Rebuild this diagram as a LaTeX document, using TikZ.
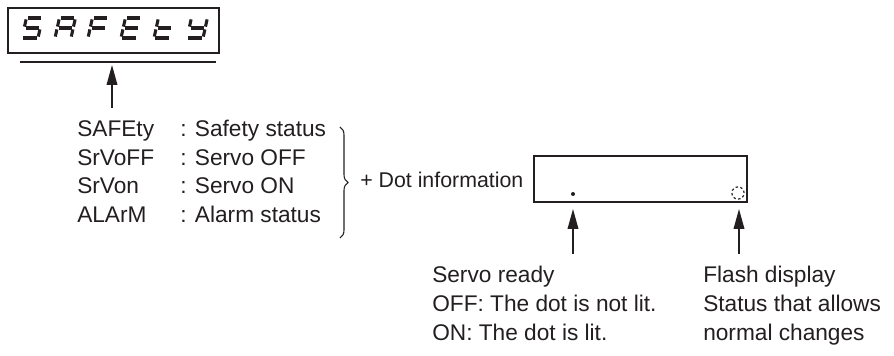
\documentclass[tikz,border=0pt]{standalone}
\usepackage{fontspec}
\setmainfont{Liberation Sans}
\usetikzlibrary{arrows.meta,decorations.pathreplacing}
\definecolor{ink}{RGB}{35,31,32}

% segments of one 7-segment digit (local units, y up)
\tikzset{
    segpath/a/.style={insert path={(1.4,20)--(14.6,20)}},
    segpath/b/.style={insert path={(16,18.6)--(16,11.4)}},
    segpath/c/.style={insert path={(16,8.6)--(16,1.4)}},
    segpath/d/.style={insert path={(1.4,0)--(14.6,0)}},
    segpath/e/.style={insert path={(0,1.4)--(0,8.6)}},
    segpath/f/.style={insert path={(0,11.4)--(0,18.6)}},
    segpath/g/.style={insert path={(1.4,10)--(14.6,10)}}
}

\begin{document}
\begin{tikzpicture}[
        x=0.75pt, y=-0.75pt,
        txt/.style={font=\fontsize{17}{21.4}\selectfont, inner sep=0pt, text=ink},
        frame/.style={draw=ink, line width=1.1pt},
        seg/.style={draw=ink, line width=2.3pt},
        arrow/.style={draw=ink, line width=1.1pt, -{Triangle[length=15pt,width=8pt]}},
        brace/.style={draw=ink, line width=0.8pt, decorate, decoration={brace, amplitude=6pt}}
    ]
        \useasboundingbox (0,0) rectangle (894,356);

        % Display
        \draw[frame] (8,8) rectangle (219,53);
        \draw[frame] (20,62) -- (216,62);
        \foreach \sg [count=\i from 0] in {{a,f,g,c,d}, {a,b,c,e,f,g}, {a,f,e,g},
                                           {a,f,e,g,d}, {f,e,g,d}, {b,c,d,f,g}} {
            \begin{scope}[shift={({22+33*\i},38)}, x=0.75pt, y=0.75pt, xslant=0.22]
                \foreach \s in \sg {\path[seg, segpath/\s];}
            \end{scope}
        }
        \coordinate (dispArrowTip) at (112,65);
        \coordinate (dispArrowTail) at (112,108);
        \draw[arrow] (dispArrowTail) -- (dispArrowTip);

        % Status list
        \foreach \nm/\ds [count=\i from 0] in {SAFEty/Safety status, SrVoFF/Servo OFF,
                                               SrVon/Servo ON, ALArM/Alarm status} {
            \node[txt, anchor=base west] (name\i) at (77,{137+28.5*\i}) {\nm};
            \node[txt, anchor=base west] (desc\i) at (180,{137+28.5*\i}) {: \ds};
        }
        \coordinate (braceTop) at (340,127);
        \coordinate (braceBot) at (340,238);
        \draw[brace] (braceTop) -- (braceBot);
        \node[txt, font=\fontsize{16}{20}\selectfont, anchor=base west] (dotinfo) at (360,188) {+ Dot information};

        % Dot display
        \draw[frame] (534,156) rectangle (747,202);
        \fill[ink] (573,194) circle (1.5pt);
        \draw[ink, line width=0.9pt, dash pattern=on 1.8pt off 1.8pt] (738,193) circle (4.6pt);
        \coordinate (readyTip) at (573,209);
        \coordinate (readyTail) at (573,254);
        \coordinate (flashTip) at (739,209);
        \coordinate (flashTail) at (739,254);
        \draw[arrow] (readyTail) -- (readyTip);
        \draw[arrow] (flashTail) -- (flashTip);

        % Explanations
        \foreach \ln [count=\i from 0] in {Servo ready, OFF: The dot is not lit., ON: The dot is lit.} {
            \node[txt, anchor=base west] (ready\i) at (432,{283+29*\i}) {\ln};
        }
        \foreach \ln [count=\i from 0] in {Flash display, Status that allows, normal changes} {
            \node[txt, anchor=base west] (flash\i) at (703,{283+29*\i}) {\ln};
        }
    \end{tikzpicture}
\end{document}
